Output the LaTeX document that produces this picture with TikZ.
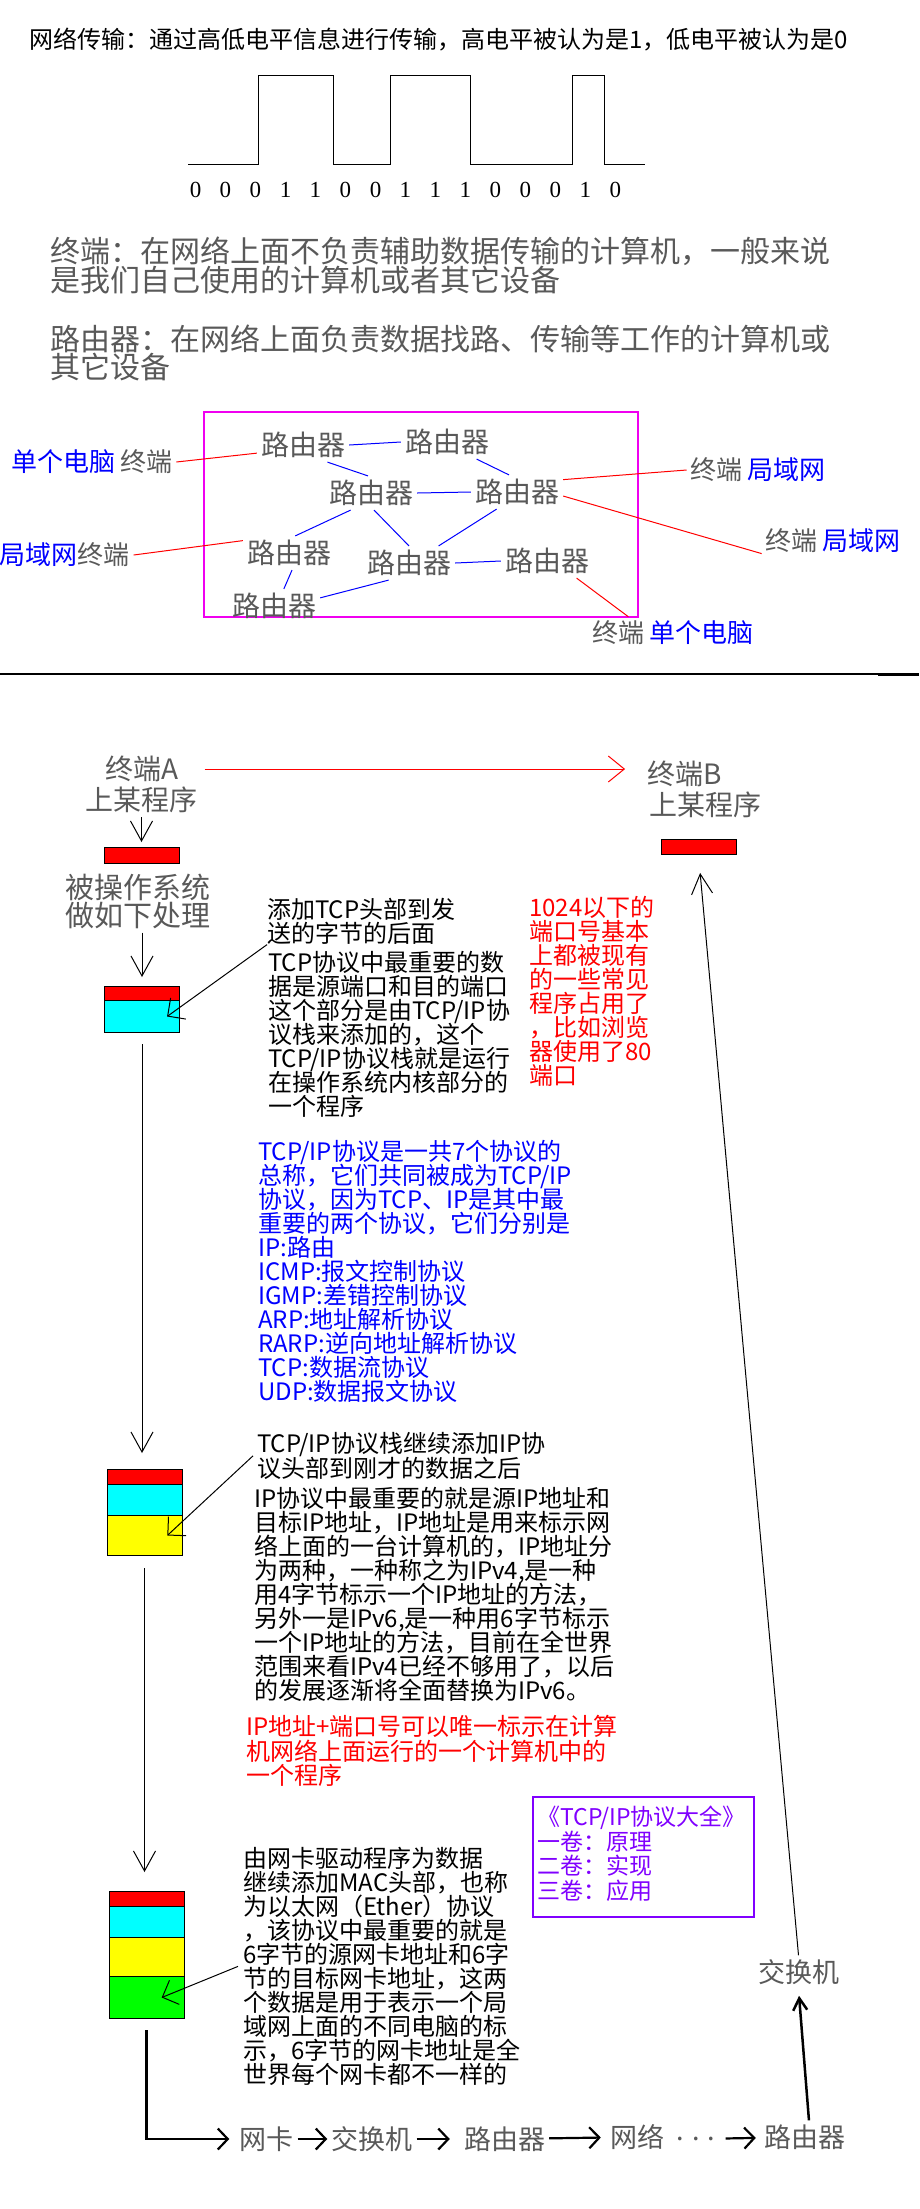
\documentclass[tikz,border=0pt]{standalone}
\usepackage{fontspec}
\setmainfont{Noto Sans CJK SC}
\newfontfamily\bitfont{Liberation Serif}
\usetikzlibrary{arrows.meta,calc}
\newcommand{\fsz}[2]{\fontsize{#1}{#2}\selectfont\lineskiplimit=-50pt}
\definecolor{inkgray}{gray}{0.35}
\definecolor{bookpurple}{RGB}{128,0,255}
\definecolor{tcpcyan}{RGB}{0,255,255}
\definecolor{ipyellow}{RGB}{255,255,0}
\definecolor{macgreen}{RGB}{0,255,0}
\definecolor{headred}{RGB}{255,0,0}
\definecolor{framemagenta}{RGB}{240,0,240}

\begin{document}
\begin{tikzpicture}[x=1pt,y=-1pt,
        router/.style={font=\fsz{28}{28},text=inkgray,inner sep=4pt},
        host/.style={font=\fsz{28}{28},text=inkgray,inner sep=4pt},
        hop/.style={font=\fsz{27}{27},text=inkgray,inner sep=4pt},
        term/.style={font=\fsz{26}{26},text=inkgray,inner sep=4pt},
        note/.style={anchor=north west,inner sep=0pt,align=left,font=\fsz{24}{24}},
        layer/.style={draw,line width=1pt,minimum width=75pt,inner sep=0pt,anchor=north},
        link/.style={blue,line width=1pt},
        wire/.style={red,line width=1pt},
        down/.style={-{Straight Barb[length=20pt,width=22pt]},line width=1pt},
        pointer/.style={-{Straight Barb[length=13pt,width=26pt]},line width=1pt},
        flow/.style={-{Straight Barb[length=10pt,width=21pt]},line width=2.2pt}]
        \useasboundingbox (0,0) rectangle (919,2209);

        \node[note] (title) at (29,28) {网络传输：通过高低电平信息进行传输，高电平被认为是1，低电平被认为是0};
        \draw [line width=1pt] (188,164) -- (258,164) -- (258,75) -- (333,75) -- (333,164) -- (390,164) -- (390,75) -- (470,75) -- (470,164) -- (572,164) -- (572,75) -- (604,75) -- (604,164) -- (645,164);
        \node[font=\bitfont\fsz{23}{23}] (bits) at (405.5,190) {\spaceskip=18.5pt 0 0 0 1 1 0 0 1 1 1 0 0 0 1 0};

        \node[note,font=\fsz{30}{29},text=inkgray] (termDef) at (50,237) {终端：在网络上面不负责辅助数据传输的计算机，一般来说\\是我们自己使用的计算机或者其它设备};
        \node[note,font=\fsz{30}{28},text=inkgray] (routerDef) at (50,325) {路由器：在网络上面负责数据找路、传输等工作的计算机或\\其它设备};

        \draw [framemagenta,line width=1.5pt] (204,412) rectangle (638,617);
        \node[router] (r1) at (303,445) {路由器};
        \node[router] (r2) at (447,442) {路由器};
        \node[router] (r3) at (371,493) {路由器};
        \node[router] (r4) at (517,492) {路由器};
        \node[router] (r5) at (289,553) {路由器};
        \node[router] (r6) at (409,563) {路由器};
        \node[router] (r7) at (547,561) {路由器};
        \node[router] (r8) at (274,606) {路由器};
        \node[term] (t1) at (92,462) {{\color{blue}单个电脑}\,终端};
        \node[term] (t2) at (64.5,555) {{\color{blue}局域网}终端};
        \node[term] (t3) at (758,470) {终端\,{\color{blue}局域网}};
        \node[term] (t4) at (833,541) {终端\,{\color{blue}局域网}};
        \node[term] (t5) at (673,633) {终端\,{\color{blue}单个电脑}};

        \draw [link] (r1.east) -- (r2.west);
        \draw [link] (r1.-35) -- (r3.100);
        \draw [link] (r2.-30) -- (r4.115);
        \draw [link] (r3.east) -- (r4.west);
        \draw [link] (r3.-140) -- (r5.70);
        \draw [link] (r3.-80) -- (r6.north);
        \draw [link] (r4.-140) -- (r6.30);
        \draw [link] (r6.east) -- (r7.west);
        \draw [link] (r5.-80) -- (r8.60);
        \draw [link] (r6.-140) -- (r8.10);
        \draw [wire] (t1.east) -- (r1.190);
        \draw [wire] (t2.east) -- (r5.165);
        \draw [wire] (r4.15) -- (t3.west);
        \draw [wire] (r4.-5) -- (t4.190);
        \draw [wire] (r7.-30) -- (t5.160);

        \draw [line width=1.2pt] (0,674) -- (919,674);
        \draw [line width=3pt] (878,674) -- (919,674);

        \node[host] (termA) at (142,769) {终端A};
        \node[host] (progA) at (141.5,800) {上某程序};
        \node[host] (termB) at (684.5,774) {终端B};
        \node[host] (progB) at (705,805) {上某程序};
        \node[host,font=\fsz{29}{28},align=center] (osText) at (137.5,901) {被操作系统\\做如下处理};

        \node[layer,fill=headred,minimum height=16pt] (pkt1) at (141.5,847) {};
        \node[layer,fill=headred,minimum height=15pt] (pktB) at (698.5,839) {};
        \node[layer,fill=headred,minimum height=14pt] (pkt2top) at (142,986) {};
        \node[layer,fill=tcpcyan,minimum height=32pt] (pkt2tcp) at (142,1000) {};
        \node[layer,fill=headred,minimum height=15pt] (pkt3top) at (144.5,1469) {};
        \node[layer,fill=tcpcyan,minimum height=31pt] (pkt3tcp) at (144.5,1484) {};
        \node[layer,fill=ipyellow,minimum height=40pt] (pkt3ip) at (144.5,1515) {};
        \node[layer,fill=headred,minimum height=15pt] (pkt4top) at (146.5,1891) {};
        \node[layer,fill=tcpcyan,minimum height=31pt] (pkt4tcp) at (146.5,1906) {};
        \node[layer,fill=ipyellow,minimum height=39pt] (pkt4ip) at (146.5,1937) {};
        \node[layer,fill=macgreen,minimum height=42pt] (pkt4mac) at (146.5,1976) {};

        \node[note] (tcpNote) at (267,898) {添加TCP头部到发\\送的字节的后面};
        \node[note] (tcpMain) at (268,951) {TCP协议中最重要的数\\据是源端口和目的端口\\这个部分是由TCP/IP协\\议栈来添加的，这个\\TCP/IP协议栈就是运行\\在操作系统内核部分的\\一个程序};
        \node[note,text=red] (portNote) at (529,896) {1024以下的\\端口号基本\\上都被现有\\的一些常见\\程序占用了\\，比如浏览\\器使用了80\\端口};
        \node[note,text=blue] (protoList) at (258,1140) {TCP/IP协议是一共7个协议的\\总称，它们共同被成为TCP/IP\\协议，因为TCP、IP是其中最\\重要的两个协议，它们分别是\\IP:路由\\ICMP:报文控制协议\\IGMP:差错控制协议\\ARP:地址解析协议\\RARP:逆向地址解析协议\\TCP:数据流协议\\UDP:数据报文协议};
        \node[note,font=\fsz{24}{25}] (ipNote) at (257,1432) {TCP/IP协议栈继续添加IP协\\议头部到刚才的数据之后};
        \node[note] (ipMain) at (254,1487) {IP协议中最重要的就是源IP地址和\\目标IP地址，IP地址是用来标示网\\络上面的一台计算机的，IP地址分\\为两种，一种称之为IPv4,是一种\\用4字节标示一个IP地址的方法，\\另外一是IPv6,是一种用6字节标示\\一个IP地址的方法，目前在全世界\\范围来看IPv4已经不够用了，以后\\的发展逐渐将全面替换为IPv6。};
        \node[note,text=red,font=\fsz{24}{24.5}] (uniqueNote) at (246,1715) {IP地址+端口号可以唯一标示在计算\\机网络上面运行的一个计算机中的\\一个程序};
        \node[draw=bookpurple,line width=2pt,minimum width=221pt,minimum height=120pt,anchor=north west,inner sep=0pt] (book) at (532,1796) {};
        \node[note,text=bookpurple,font=\fsz{23}{24.5}] (bookText) at (537,1806) {《TCP/IP协议大全》\\一卷：原理\\二卷：实现\\三卷：应用};
        \node[note] (macNote) at (243,1847) {由网卡驱动程序为数据\\继续添加MAC头部，也称\\为以太网（Ether）协议\\，该协议中最重要的就是\\6字节的源网卡地址和6字\\节的目标网卡地址，这两\\个数据是用于表示一个局\\域网上面的不同电脑的标\\示，6字节的网卡地址是全\\世界每个网卡都不一样的};

        \node[hop] (nic) at (266.5,2139) {网卡};
        \node[hop] (sw1) at (372,2139) {交换机};
        \node[hop] (rt1) at (504.5,2139) {路由器};
        \node[hop] (net) at (637,2137) {网络};
        \node[hop] (dots) at (696,2139) {. . .};
        \node[hop] (rt2) at (804.5,2137) {路由器};
        \node[hop] (sw2) at (798.5,1972) {交换机};

        \draw [-{Straight Barb[length=16pt,width=26pt]},red,line width=1pt,shorten <=22pt,shorten >=18pt] (termA.east) -- (termA.east -| termB.west);
        \draw [down,shorten >=5pt] (progA) -- (pkt1);
        \draw [down,shorten >=9pt] (osText.south -| pkt2top) -- (pkt2top.north);
        \draw [down,shorten <=11pt,shorten >=16pt] (pkt2tcp.south) -- (pkt2tcp.south |- pkt3top.north);
        \draw [down,shorten <=12pt,shorten >=19pt] (pkt3ip.south) -- (pkt3ip.south |- pkt4top.north);
        \draw [pointer] (tcpNote.south west) -- ($(pkt2tcp.center)!0.66!(pkt2tcp.east)$);
        \draw [pointer] ([xshift=-4pt]ipNote.west) -- ($(pkt3ip.center)!0.6!(pkt3ip.east)$);
        \draw [pointer] ([xshift=-5pt]macNote.west) -- ($(pkt4mac.center)!0.4!(pkt4mac.east)$);

        \draw [flow,shorten <=11pt,shorten >=6pt] (pkt4mac.south) |- (nic.west);
        \draw [flow] (nic) -- (sw1);
        \draw [flow,shorten >=10pt] (sw1) -- (rt1);
        \draw [flow,shorten >=5pt] (rt1) -- (net);
        \draw [flow,shorten <=6pt,shorten >=4pt] (dots) -- (rt2);
        \draw [-{Straight Barb[length=12pt,width=14pt]},line width=2.5pt,shorten >=7pt] (rt2.75) -- (sw2.south);
        \draw [-{Straight Barb[length=20pt,width=21pt]},line width=1pt,shorten >=18pt] (sw2.north) -- (pktB.south);
    \end{tikzpicture}
\end{document}
